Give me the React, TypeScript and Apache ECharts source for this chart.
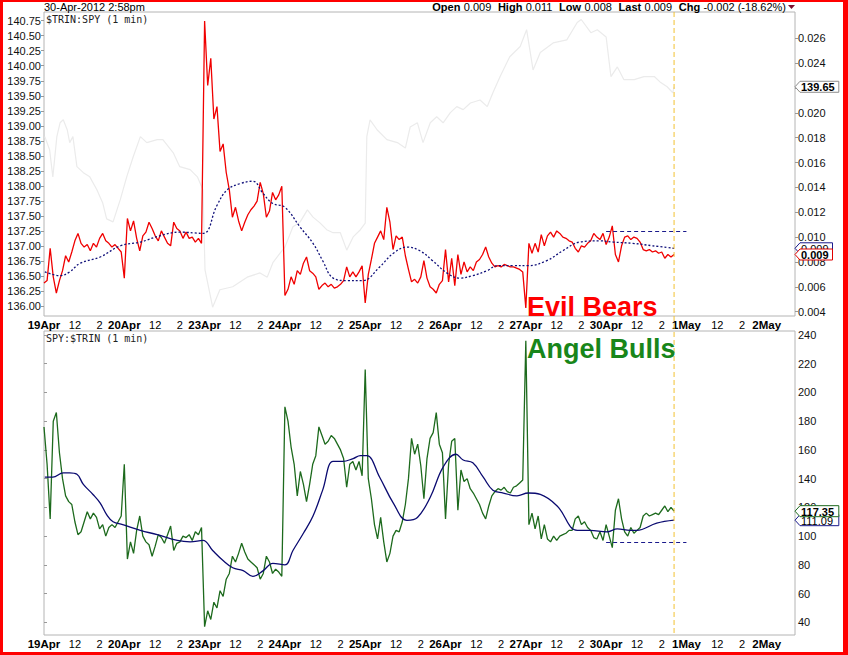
import React, { useEffect, useRef } from "react";
import * as echarts from "echarts";

// ---------- data ----------
const dayLabels = ["19Apr", "20Apr", "23Apr", "24Apr", "25Apr", "26Apr", "27Apr", "30Apr", "1May", "2May"];
const sessionHours = 6.5;
const hourTickOffsets = [2.5, 4.5];
const hourTickLabels = ["12", "2"];
const stepsPerDay = 26; // 15-minute samples per session

// $TRIN:SPY, 15-minute samples per session
const red19Apr = [0.0063, 0.0065, 0.0091, 0.0068, 0.0055, 0.0065, 0.0073, 0.0085, 0.008, 0.0088, 0.0097, 0.0103, 0.0095, 0.0092, 0.0094, 0.0089, 0.0095, 0.0092, 0.0099, 0.0103, 0.0097, 0.0095, 0.0092, 0.0094, 0.0091, 0.0088];
const red20Apr = [0.0067, 0.0115, 0.0105, 0.0113, 0.0099, 0.0089, 0.0101, 0.0104, 0.0112, 0.0107, 0.0101, 0.0097, 0.0105, 0.01, 0.0095, 0.0093, 0.0112, 0.0107, 0.0105, 0.0099, 0.0104, 0.0099, 0.01, 0.0096, 0.0099, 0.0095];
const red23Apr = [0.0274, 0.0222, 0.0244, 0.0195, 0.0205, 0.0169, 0.0175, 0.0152, 0.0138, 0.0116, 0.0124, 0.0113, 0.0105, 0.0112, 0.0118, 0.0122, 0.0125, 0.0129, 0.0144, 0.0135, 0.0116, 0.0121, 0.0136, 0.013, 0.0134, 0.0141];
const red24Apr = [0.0053, 0.0058, 0.0068, 0.0062, 0.0073, 0.007, 0.0079, 0.0084, 0.0073, 0.0071, 0.0068, 0.0058, 0.0061, 0.0063, 0.006, 0.0062, 0.0059, 0.006, 0.0062, 0.0065, 0.0076, 0.0068, 0.0072, 0.0068, 0.0072, 0.0077];
const red25Apr = [0.0047, 0.007, 0.0082, 0.0095, 0.01, 0.0105, 0.0098, 0.0124, 0.0112, 0.009, 0.0101, 0.0098, 0.01, 0.0085, 0.0074, 0.0064, 0.0066, 0.0063, 0.0068, 0.0081, 0.0067, 0.006, 0.0058, 0.0055, 0.0062, 0.0065];
const red26Apr = [0.009, 0.0064, 0.0083, 0.0061, 0.0086, 0.007, 0.008, 0.0072, 0.0076, 0.0073, 0.008, 0.0082, 0.0086, 0.0092, 0.0084, 0.0079, 0.0076, 0.0077, 0.0076, 0.0078, 0.0077, 0.0076, 0.0076, 0.0075, 0.0074, 0.0072];
const red27Apr = [0.0043, 0.0095, 0.0087, 0.0095, 0.0088, 0.0102, 0.0093, 0.0101, 0.0104, 0.01, 0.0105, 0.0103, 0.01, 0.0099, 0.0097, 0.0096, 0.0091, 0.0088, 0.0093, 0.0092, 0.0095, 0.0097, 0.0103, 0.01, 0.0098, 0.0103];
const red30Apr = [0.0094, 0.01, 0.0109, 0.0086, 0.008, 0.0093, 0.01, 0.0101, 0.0098, 0.01, 0.0099, 0.0096, 0.009, 0.0089, 0.009, 0.0088, 0.0089, 0.0087, 0.0088, 0.0083, 0.0086, 0.0084, 0.0086];
const redByDay = [red19Apr, red20Apr, red23Apr, red24Apr, red25Apr, red26Apr, red27Apr, red30Apr];

// SPY:$TRIN, 15-minute samples per session
const green19Apr = [176, 150, 112, 180, 186, 158, 140, 128, 124, 122, 110, 101, 103, 110, 117, 112, 116, 113, 105, 108, 100, 106, 108, 106, 110, 114];
const green20Apr = [150, 84, 96, 88, 104, 114, 100, 96, 94, 86, 93, 101, 99, 95, 101, 107, 90, 95, 96, 100, 99, 101, 97, 103, 101, 106];
const green23Apr = [37, 48, 42, 54, 50, 62, 58, 70, 74, 86, 82, 88, 95, 89, 84, 82, 80, 78, 70, 74, 86, 82, 74, 77, 75, 72];
const green24Apr = [190, 180, 162, 150, 128, 145, 136, 124, 136, 150, 156, 176, 170, 164, 166, 170, 168, 164, 160, 154, 134, 150, 152, 146, 152, 142];
const green25Apr = [216, 140, 126, 108, 98, 113, 96, 82, 88, 100, 104, 103, 110, 122, 140, 168, 157, 164, 149, 126, 154, 168, 172, 186, 164, 158];
const green26Apr = [112, 150, 166, 168, 118, 146, 138, 140, 133, 130, 126, 122, 116, 112, 121, 128, 131, 133, 132, 134, 131, 130, 134, 135, 137, 139];
const green27Apr = [236, 108, 116, 105, 114, 98, 108, 98, 96, 100, 97, 100, 101, 102, 104, 104, 112, 114, 108, 110, 106, 104, 99, 98, 103, 97];
const green30Apr = [108, 100, 92, 118, 126, 112, 103, 100, 106, 102, 104, 106, 114, 116, 114, 115, 116, 115, 118, 121, 117, 120, 117.35];
const greenByDay = [green19Apr, green20Apr, green23Apr, green24Apr, green25Apr, green26Apr, green27Apr, green30Apr];

// moving average of $TRIN:SPY (time in trading days since 19Apr open)
const maTopX = [0.01, 0.2, 0.32, 0.45, 0.7, 0.95, 1.2, 1.44, 1.69, 1.98, 2.15, 2.28, 2.44, 2.6, 2.73, 2.85, 3.0, 3.19, 3.35, 3.47, 3.6, 3.77, 3.97, 4.18, 4.35, 4.52, 4.68, 4.84, 5.02, 5.18, 5.34, 5.52, 5.64, 5.84, 6.03, 6.26, 6.46, 6.67, 6.92, 7.09, 7.33, 7.58, 7.846];
const maTopY = [0.0072, 0.0069, 0.0072, 0.0079, 0.0084, 0.0093, 0.0096, 0.0101, 0.0104, 0.0103, 0.0125, 0.0138, 0.0143, 0.0145, 0.0135, 0.0127, 0.0124, 0.0108, 0.0095, 0.0081, 0.0067, 0.0065, 0.0065, 0.0076, 0.0087, 0.0092, 0.0089, 0.0081, 0.0071, 0.0067, 0.0069, 0.0073, 0.0077, 0.0077, 0.0077, 0.0081, 0.0089, 0.0096, 0.0097, 0.0096, 0.0095, 0.0093, 0.0091];

// moving average of SPY:$TRIN
const maBotX = [0.01, 0.11, 0.24, 0.32, 0.41, 0.49, 0.61, 0.7, 0.78, 0.86, 0.98, 1.2, 1.41, 1.66, 1.82, 1.98, 2.1, 2.23, 2.35, 2.48, 2.6, 2.73, 2.85, 3.0, 3.1, 3.23, 3.35, 3.47, 3.6, 3.72, 3.85, 3.94, 4.02, 4.18, 4.35, 4.52, 4.65, 4.81, 4.97, 5.13, 5.22, 5.34, 5.47, 5.59, 5.72, 5.89, 6.03, 6.18, 6.39, 6.64, 6.8, 7.01, 7.14, 7.3, 7.38, 7.63, 7.846];
const maBotY = [141, 141, 144, 144, 143, 136, 129, 123, 115, 110, 108, 104, 101, 97, 96, 97, 90, 83, 78, 76, 72, 76, 81, 80, 90, 102, 114, 132, 152, 152, 154, 156, 156, 141, 123, 111, 113, 127, 148, 157, 153, 151, 141, 132, 130, 128, 130, 129, 121, 104, 104, 103, 105, 104, 104, 109, 111.09];

// SPY price (light grey, left axis)
const spyX = [0.01, 0.07, 0.11, 0.16, 0.2, 0.24, 0.29, 0.32, 0.36, 0.41, 0.49, 0.57, 0.66, 0.73, 0.78, 0.86, 0.95, 1.03, 1.11, 1.2, 1.28, 1.41, 1.48, 1.61, 1.69, 1.82, 1.91, 1.98, 2.005, 2.1, 2.19, 2.35, 2.53, 2.69, 2.78, 2.85, 2.94, 3.0, 3.1, 3.19, 3.28, 3.35, 3.44, 3.52, 3.6, 3.69, 3.77, 3.85, 3.94, 4.0, 4.02, 4.06, 4.15, 4.27, 4.4, 4.5, 4.56, 4.65, 4.72, 4.81, 4.89, 4.97, 5.06, 5.14, 5.22, 5.31, 5.43, 5.52, 5.59, 5.68, 5.8, 5.93, 6.01, 6.09, 6.18, 6.34, 6.51, 6.64, 6.69, 6.81, 6.89, 7.0, 7.06, 7.14, 7.22, 7.35, 7.47, 7.6, 7.68, 7.76, 7.83, 7.846];
const spyY = [138.82, 138.6, 138.15, 138.82, 139.05, 139.1, 138.93, 138.72, 138.82, 138.32, 138.22, 138.15, 137.93, 137.72, 137.45, 137.4, 137.77, 138.15, 138.48, 138.82, 138.72, 138.77, 138.77, 138.55, 138.32, 138.27, 138.15, 137.93, 136.6, 135.98, 136.27, 136.32, 136.48, 136.55, 136.48, 136.72, 136.88, 136.98, 137.32, 137.4, 137.6, 137.48, 137.38, 137.27, 137.22, 137.22, 136.93, 137.15, 137.27, 137.38, 138.82, 139.1, 138.93, 138.77, 138.72, 138.63, 138.98, 139.05, 138.72, 139.05, 139.15, 139.05, 139.22, 139.32, 139.27, 139.38, 139.43, 139.32, 139.55, 139.82, 140.15, 140.32, 140.6, 139.93, 140.22, 140.38, 140.43, 140.72, 140.77, 140.55, 140.6, 140.48, 139.82, 139.98, 139.77, 139.77, 139.82, 139.82, 139.72, 139.65, 139.55, 139.65];

// axis tick values
const spyTicks = [136.0, 136.25, 136.5, 136.75, 137.0, 137.25, 137.5, 137.75, 138.0, 138.25, 138.5, 138.75, 139.0, 139.25, 139.5, 139.75, 140.0, 140.25, 140.5, 140.75];
const trinSpyTicks = [0.004, 0.006, 0.008, 0.01, 0.012, 0.014, 0.016, 0.018, 0.02, 0.022, 0.024, 0.026];
const spyTrinTicks = [40, 60, 80, 100, 120, 140, 160, 180, 200, 220, 240];

// today's range lines
const todayStartDay = 7;
const todayEndDay = 8;
const todayHighTrinSpy = 0.01046;
const todayLowSpyTrin = 96;

const headerDate = "30-Apr-2012 2:58pm";
const quoteLabels = ["Open", "High", "Low", "Last", "Chg"];
const quoteValues = ["0.009", "0.011", "0.008", "0.009", "-0.002 (-18.62%)"];

// ---------- styling ----------
const SANS = '"Liberation Sans", Arial, sans-serif';
const MONO = '"DejaVu Sans Mono", monospace';
const GL = 44;
const GR = 53;
const TOP1 = 12;
const TOP2 = 331;
const GH = 304;
const X_MAX = 9.352;

export default function App() {
  const ref = useRef<HTMLDivElement>(null);

  useEffect(() => {
    if (!ref.current) return;
    const chart = echarts.init(ref.current, null, { renderer: "svg" });

    const redData = redByDay.flatMap((arr, d) => arr.map((v, i) => [d + i / stepsPerDay, v]));
    const greenData = greenByDay.flatMap((arr, d) => arr.map((v, i) => [d + i / stepsPerDay, v]));
    const maTopData = maTopX.map((x, i) => [x, maTopY[i]]);
    const maBotData = maBotX.map((x, i) => [x, maBotY[i]]);
    const spyData = spyX.map((x, i) => [x, spyY[i]]);

    const xVals: number[] = [];
    const xText: Record<string, string> = {};
    dayLabels.forEach((lab, d) => {
      xVals.push(d);
      xText[d.toFixed(4)] = `{d|${lab}}`;
      hourTickOffsets.forEach((h, k) => {
        const v = d + h / sessionHours;
        if (v <= X_MAX) {
          xVals.push(v);
          xText[v.toFixed(4)] = `{h|${hourTickLabels[k]}}`;
        }
      });
    });

    const xAxis = (gridIndex: number) => ({
      type: "value",
      gridIndex,
      min: 0,
      max: X_MAX,
      axisLine: { show: false },
      splitLine: { show: false },
      axisTick: { show: false },
      axisLabel: {
        customValues: xVals,
        formatter: (v: number) => xText[v.toFixed(4)] ?? "",
        margin: 3,
        fontSize: 11.5,
        fontFamily: SANS,
        color: "#000",
        rich: {
          d: { fontFamily: SANS, fontWeight: "bold", fontSize: 11.5, color: "#000" },
          h: { fontFamily: SANS, fontSize: 11, color: "#000" },
        },
      },
    });

    const yAxis = (gridIndex: number, position: string, min: number, max: number, ticks: number[], digits: number) => ({
      type: "value",
      gridIndex,
      position,
      min,
      max,
      axisLine: { show: false },
      splitLine: { show: false },
      axisTick: { show: true, customValues: ticks, length: 3, lineStyle: { color: "#999" } },
      axisLabel: {
        customValues: ticks,
        formatter: (v: number) => v.toFixed(digits),
        margin: 3,
        fontSize: 11,
        fontFamily: SANS,
        color: "#111",
      },
    });

    const option: any = {
      animation: false,
      backgroundColor: "#fff",
      grid: [
        { left: GL, right: GR, top: TOP1, height: GH, show: true, borderColor: "#b4b4b4", borderWidth: 1, backgroundColor: "#fff", containLabel: false, outerBoundsMode: "none" },
        { left: GL, right: GR, top: TOP2, height: GH, show: true, borderColor: "#b4b4b4", borderWidth: 1, backgroundColor: "#fff", containLabel: false, outerBoundsMode: "none" },
      ],
      xAxis: [xAxis(0), xAxis(1)],
      yAxis: [
        yAxis(0, "left", 135.833, 140.895, spyTicks, 2),
        yAxis(0, "right", 0.00365, 0.02812, trinSpyTicks, 3),
        yAxis(1, "right", 31.16, 242.78, spyTrinTicks, 0),
      ],
      series: [
        {
          type: "line", name: "SPY", xAxisIndex: 0, yAxisIndex: 0, data: spyData,
          showSymbol: false, symbol: "none", silent: true, z: 1,
          lineStyle: { color: "#ebebeb", width: 1.2 },
        },
        {
          type: "line", name: "$TRIN:SPY", xAxisIndex: 0, yAxisIndex: 1, data: redData,
          showSymbol: false, symbol: "none", silent: true, z: 3,
          lineStyle: { color: "#f00000", width: 1.3 },
          markLine: {
            silent: true, symbol: "none", label: { show: false },
            lineStyle: { color: "#1a1a8c", type: [4, 3], width: 1 },
            data: [[{ coord: [todayStartDay, todayHighTrinSpy] }, { coord: [todayEndDay, todayHighTrinSpy] }]],
          },
        },
        {
          type: "line", name: "MA top", xAxisIndex: 0, yAxisIndex: 1, data: maTopData, smooth: 0.4,
          showSymbol: false, symbol: "none", silent: true, z: 4,
          lineStyle: { color: "#10107a", width: 1.3, type: [2, 2] },
        },
        {
          type: "line", name: "SPY:$TRIN", xAxisIndex: 1, yAxisIndex: 2, data: greenData,
          showSymbol: false, symbol: "none", silent: true, z: 3,
          lineStyle: { color: "#1d6a1d", width: 1.3 },
          markLine: {
            silent: true, symbol: "none", label: { show: false },
            lineStyle: { color: "#1a1a8c", type: [4, 3], width: 1 },
            data: [[{ coord: [todayStartDay, todayLowSpyTrin] }, { coord: [todayEndDay, todayLowSpyTrin] }]],
          },
        },
        {
          type: "line", name: "MA bottom", xAxisIndex: 1, yAxisIndex: 2, data: maBotData, smooth: 0.4,
          showSymbol: false, symbol: "none", silent: true, z: 4,
          lineStyle: { color: "#0a0a70", width: 1.3 },
        },
      ],
    };

    chart.setOption(option);

    const lastRed = redData[redData.length - 1];
    const lastGreen = greenData[greenData.length - 1];
    const lastX = lastRed[0];
    const xLine = chart.convertToPixel({ xAxisIndex: 0 }, lastX) as number;
    const ySpy = chart.convertToPixel({ yAxisIndex: 0 }, spyY[spyY.length - 1]) as number;
    const yRed = chart.convertToPixel({ yAxisIndex: 1 }, lastRed[1]) as number;
    const yMaTop = chart.convertToPixel({ yAxisIndex: 1 }, maTopY[maTopY.length - 1]) as number;
    const yGreen = chart.convertToPixel({ yAxisIndex: 2 }, lastGreen[1]) as number;
    const yMaBot = chart.convertToPixel({ yAxisIndex: 2 }, maBotY[maBotY.length - 1]) as number;
    const axisX = 848 - GR;

    const tag = (y: number, text: string, stroke: string, bold: boolean, z: number) => {
      const w = text.length * 6.3 + 6;
      const h = 5.5;
      return {
        type: "group",
        z: 100 + z,
        children: [
          {
            type: "polygon",
            z: 100 + z,
            shape: { points: [[axisX, y], [axisX + 5, y - h], [axisX + w, y - h], [axisX + w, y + h], [axisX + 5, y + h]] },
            style: { fill: "#fff", stroke, lineWidth: 1 },
          },
          {
            type: "text",
            z: 101 + z,
            x: axisX + 6,
            y: y + 0.5,
            style: { text, fill: "#000", font: `${bold ? "bold " : ""}11px ${SANS}`, textAlign: "left", textVerticalAlign: "middle" },
          },
        ],
      };
    };

    const richHeader = quoteLabels.map((l, i) => `{b|${l}} {n|${quoteValues[i]}}`).join("  ");

    chart.setOption({
      graphic: [
        // yellow "now" line
        {
          type: "line", z: 50, shape: { x1: xLine, y1: TOP1, x2: xLine, y2: TOP2 + GH },
          style: { stroke: "#f2c230", lineWidth: 1, lineDash: [5, 3] },
        },
        // header
        { type: "text", x: GL, y: 7, style: { text: headerDate, fill: "#000", font: `11px ${SANS}`, textVerticalAlign: "middle" } },
        {
          type: "text", x: 786, y: 7,
          style: {
            text: richHeader, textAlign: "right", textVerticalAlign: "middle",
            rich: {
              b: { fontFamily: SANS, fontWeight: "bold", fontSize: 11, fill: "#000" },
              n: { fontFamily: SANS, fontSize: 11, fill: "#000" },
            },
          },
        },
        { type: "polygon", shape: { points: [[788, 5], [795, 5], [791.5, 9]] }, style: { fill: "#7a1030" } },
        // panel titles
        { type: "text", x: GL + 2, y: 19, style: { text: "$TRIN:SPY (1 min)", fill: "#222", font: `10px ${MONO}`, textVerticalAlign: "middle" } },
        { type: "text", x: GL + 2, y: 338.5, style: { text: "SPY:$TRIN (1 min)", fill: "#222", font: `10px ${MONO}`, textVerticalAlign: "middle" } },
        // annotations
        { type: "text", z: 60, x: 527, y: 306.5, style: { text: "Evil Bears", fill: "#ff0000", font: `bold 27px ${SANS}`, textVerticalAlign: "middle" } },
        { type: "text", z: 60, x: 527, y: 349, style: { text: "Angel Bulls", fill: "#18861a", font: `bold 27px ${SANS}`, textVerticalAlign: "middle" } },
        // value tags
        tag(ySpy, "139.65", "#8c8c8c", true, 0),
        tag(yMaTop, "0.009", "#1a1a8c", false, 1),
        tag(yRed, "0.009", "#e00000", true, 2),
        tag(yMaBot, "111.09", "#1a1a8c", false, 1),
        tag(yGreen, "117.35", "#1d6a1d", true, 2),
        // red frame
        { type: "rect", z: 200, shape: { x: 0, y: 0, width: 848, height: 2 }, style: { fill: "#ff0000" } },
        { type: "rect", z: 200, shape: { x: 0, y: 0, width: 3, height: 655 }, style: { fill: "#ff0000" } },
        { type: "rect", z: 200, shape: { x: 843, y: 0, width: 5, height: 655 }, style: { fill: "#ff0000" } },
        { type: "rect", z: 200, shape: { x: 0, y: 652, width: 848, height: 3 }, style: { fill: "#ff0000" } },
      ],
    });

    return () => chart.dispose();
  }, []);

  return (
    <div
      ref={ref}
      style={{ position: "fixed", left: 0, top: 0, width: 848, height: 655, background: "#fff" }}
    />
  );
}
